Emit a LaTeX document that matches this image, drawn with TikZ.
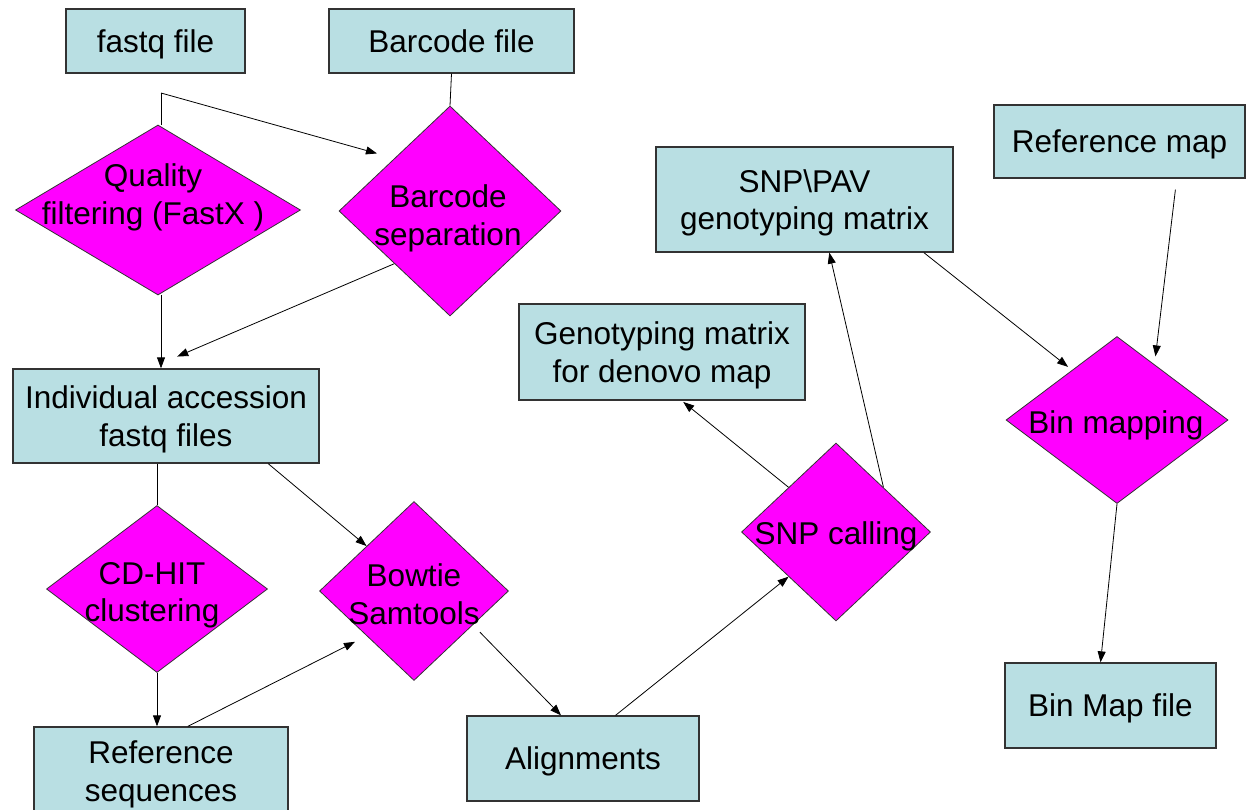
\documentclass[tikz,border=0pt]{standalone}
\usepackage{fontspec}
\setmainfont{Liberation Sans}
\usetikzlibrary{shapes.geometric,arrows.meta}
\definecolor{filecyan}{RGB}{185,223,227}
\definecolor{stepmagenta}{RGB}{255,0,255}
\begin{document}
\begin{tikzpicture}[x=1pt,y=-1pt,
    every node/.style={font=\fontsize{31.5}{37.5}\selectfont,text depth=0pt},
    filebox/.style={rectangle,draw=black!80,line width=1.3pt,fill=filecyan,inner sep=0pt,align=center},
    stepbox/.style={diamond,draw=black!80,line width=0.8pt,fill=stepmagenta,inner sep=0pt},
    steptext/.style={inner sep=0pt,align=center},
    flow/.style={-{Triangle[length=11pt,width=8pt]},line width=0.8pt}]
      \useasboundingbox (0,0) rectangle (1247,810);
      \draw
        (155.5,41) node[filebox,minimum width=179pt,minimum height=64pt] (fastq){fastq file}
        (451.5,41) node[filebox,minimum width=245pt,minimum height=64pt] (barcode){Barcode file}
        (1119.5,141.5) node[filebox,minimum width=251pt,minimum height=73pt] (refmap){Reference map}
        (804.5,199.5) node[filebox,minimum width=297pt,minimum height=105pt] (snppav){SNP\textbackslash PAV\\genotyping matrix}
        (662,352) node[filebox,minimum width=286pt,minimum height=96pt] (geno){Genotyping matrix\\for denovo map}
        (166,416) node[filebox,minimum width=306pt,minimum height=94pt] (indiv){Individual accession\\fastq files}
        (161,771) node[filebox,minimum width=254pt,minimum height=88pt] (refseq){Reference\\sequences}
        (583,758.5) node[filebox,minimum width=232pt,minimum height=85pt] (align){Alignments}
        (1110.5,705.5) node[filebox,minimum width=211pt,minimum height=85pt] (binmap){Bin Map file};
      \draw
        (158,210) node[stepbox,minimum width=285pt,minimum height=170pt] (qf){}
        (450,211) node[stepbox,minimum width=222pt,minimum height=210pt] (bs){}
        (157,589) node[stepbox,minimum width=221pt,minimum height=167pt] (cd){}
        (414,591) node[stepbox,minimum width=189pt,minimum height=179pt] (bt){}
        (836,532) node[stepbox,minimum width=189pt,minimum height=178pt] (snp){}
        (1117,420) node[stepbox,minimum width=222pt,minimum height=167pt] (bin){};
      \draw
        (153,194) node[steptext] (qf-txt){Quality\\filtering (FastX )}
        (448,215) node[steptext] (bs-txt){Barcode\\separation}
        (152,592) node[steptext] (cd-txt){CD-HIT\\clustering}
        (414,594) node[steptext] (bt-txt){Bowtie\\Samtools}
        (836,533) node[steptext] (snp-txt){SNP calling}
        (1116,422) node[steptext] (bin-txt){Bin mapping};
      \begin{scope}[flow]
        \coordinate (split) at (161,93);
        \draw[-] (split |- qf.north) -- (split);
        \draw[shorten >=18pt] (split) to (bs.north west);
        \draw[-] (barcode.south) to (bs.north);
        \draw (split |- qf.south) to (split |- indiv.north);
        \draw[shorten >=30pt] (bs.south west) to (indiv.109);
        \draw[-] (cd.north |- indiv.south) to (cd.north);
        \draw (indiv.-25) to (bt.north west);
        \draw (cd.south) to (cd.south |- refseq.north);
        \draw[shorten >=13pt] (refseq.59) to (bt.south west);
        \draw[shorten <=10pt] (bt.-30) to (align.117);
        \draw (align.53) to (snp.south west);
        \draw[shorten >=2pt] (snp.north west) to (geno.-68);
        \draw (snp.north east) to (snppav.-65);
        \draw[shorten >=5pt] (snppav.-24) to (bin.132);
        \draw[shorten <=11pt,shorten >=8pt] (refmap.-33) to (bin.56);
        \draw (bin.south) to (binmap.103);
      \end{scope}
    \end{tikzpicture}
\end{document}
